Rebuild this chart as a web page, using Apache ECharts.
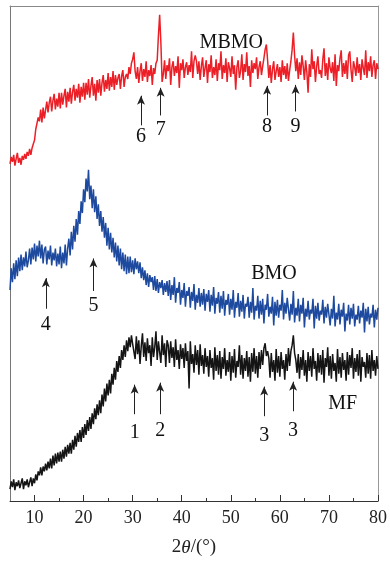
<!DOCTYPE html>
<html>
<head>
<meta charset="utf-8">
<script src="https://cdn.jsdelivr.net/npm/echarts@6/dist/echarts.min.js"></script>
<style>
  html, body { margin: 0; padding: 0; background: #fff; }
  #chart { width: 390px; height: 562px; }
</style>
</head>
<body>
<div id="chart"></div>
<script>
// 2θ sampling of the scans (degrees)
const twoThetaStart = 5
const twoThetaStep = 0.25

// intensities (arbitrary units, curves already offset as in the figure)
const mbmoIntensity = [
  342,349,344,351,340,347,353,343,348,341,350,346,352,
  347,354,350,357,351,358,
  362,366,377,378,389,385,
  397,384,399,388,
  390,405,394,404,
  410,395,406,413,397,408,400,414,
  398,414,402,411,418,399,415,405,
  419,403,415,422,406,418,409,423,404,420,410,424,
  407,424,412,428,409,421,430,411,423,406,427,414,
  428,411,424,432,415,427,418,434,
  416,430,420,436,417,432,422,429,
  433,418,431,437,420,430,
  433,428,440,433,444,448,455,436,
  428,440,424,436,444,426,438,430,446,425,437,431,442,422,439,433,444,
  447,472,493,465,425,
  433,447,428,442,436,449,422,440,446,431,441,434,451,419,444,437,448,429,440,445,
  432,442,435,456,429,446,
  452,446,
  433,446,427,441,450,430,439,447,424,443,435,452,429,440,432,448,426,444,437,456,
  428,442,434,449,425,445,439,430,451,433,442,417,440,447,429,436,453,427,443,435,
  455,431,441,420,447,434,444,438,450,428,440,446,432,441,
  449,458,463,447,
  429,442,424,438,446,427,436,443,430,440,425,447,432,441,428,444,426,437,446,
  458,475,452,
  436,449,428,445,432,452,441,427,447,435,414,443,430,458,438,446,425,441,451,433,
  437,429,448,459,431,444,427,450,439,434,445,426,453,421,442,436,449,457,430,444,
  433,447,428,452,456,437,425,446,440,431,450,434,443,427,448,439,432,457,429,445,
  436,451,430,442,447,428,444,438
]

const bmoIntensity = [
  214,236,222,241,225,244,228,247,233,
  250,234,247,238,253,237,244,256,
  240,257,245,261,243,259,248,264,
  246,260,241,255,
  258,240,254,245,259,239,252,244,
  256,238,251,240,
  258,236,252,241,260,239,256,
  266,249,273,255,279,
  263,286,270,294,
  281,304,292,316,
  303,327,314,336,306,320,
  297,316,293,309,
  286,301,279,294,273,
  288,267,282,259,277,255,
  272,252,267,247,262,243,259,239,
  256,235,252,233,250,230,248,231,
  248,232,244,230,246,235,243,231,
  242,226,237,224,
  234,219,231,217,229,222,227,214,
  228,213,225,211,222,216,224,209,221,212,223,208,
  224,204,219,209,227,201,216,211,222,199,214,206,221,197,213,208,
  217,196,212,203,220,194,209,201,216,197,211,199,215,193,210,202,
  214,192,209,198,217,190,206,200,212,191,208,195,213,188,204,199,
  210,189,205,194,214,186,202,196,211,187,203,192,209,185,200,197,
  207,186,202,191,216,184,198,193,208,185,203,189,205,180,199,194,210,187,197,190,
  207,178,202,188,204,186,199,193,214,184,201,190,206,
  204,183,200,189,213,181,196,188,205,182,199,190,206,176,195,187,203,184,194,190,
  205,175,198,185,201,183,193,189,204,180,197,186,200,
  199,178,195,185,208,177,191,184,200,179,194,187,201,172,190,183,199,179,196,185,
  200,177,189,184,198,180,193,186,201,171,195,182,197,179,190,186,199,176,194,184,196
]

const mfIntensity = [
  12,20,14,22,11,19,15,21,13,18,23,12,20,16,22,14,19,
  24,15,23,18,
  27,21,30,26,
  34,26,35,30,38,31,40,33,
  43,33,46,36,48,38,49,40,
  50,40,52,43,55,45,57,48,
  59,48,62,52,66,55,69,60,
  72,60,75,64,78,67,82,71,
  85,73,89,78,94,83,98,87,
  102,89,108,96,114,101,119,107,
  123,109,129,118,
  135,123,142,131,
  147,135,153,143,
  158,146,163,152,
  166,156,168,159,
  160,144,167,149,163,139,157,170,146,161,142,165,150,158,137,166,146,156,172,143,
  162,151,140,168,148,160,136,163,
  158,140,162,145,156,136,164,143,153,134,159,144,
  155,135,160,142,152,114,162,139,149,130,158,138,153,128,159,137,148,129,155,136,
  147,126,153,135,145,123,156,132,148,128,152,124,146,134,155,127,143,131,151,122,
  147,130,154,125,142,136,158,128,148,124,145,132,152,126,146,121,150,131,155,129,
  147,125,151,134,153,138,
  155,160,147,152,
  145,125,150,131,143,122,154,130,147,126,151,134,143,123,149,132,155,137,152,
  158,168,150,143,
  130,149,124,146,133,153,127,143,121,151,132,147,126,155,134,142,122,150,130,148,
  128,153,120,145,136,156,127,147,124,149,132,140,121,154,129,146,125,150,133,143,
  122,151,128,148,135,155,124,145,131,149,127,153,121,146,136,141,125,150,129,148,
  124,153,132,143,127,147,134
]

const majorTicks = [10, 20, 30, 40, 50, 60, 70, 80]
const minorTicks = [15, 25, 35, 45, 55, 65, 75]

// peak markers: angle, arrow tail / head and number position in intensity units
const mbmoPeaks = [
  { text: '6', angle: 31.7, tail: 381, head: 411, textAt: 369 },
  { text: '7', angle: 35.7, tail: 391, head: 419, textAt: 377 },
  { text: '8', angle: 57.4, tail: 391, head: 421, textAt: 380 },
  { text: '9', angle: 63.2, tail: 395, head: 422, textAt: 380 },
]
const bmoPeaks = [
  { text: '4', angle: 12.3, tail: 195, head: 226, textAt: 179 },
  { text: '5', angle: 22.0, tail: 213, head: 246, textAt: 198 },
]
const mfPeaks = [
  { text: '1', angle: 30.4, tail: 88, head: 118, textAt: 69 },
  { text: '2', angle: 35.6, tail: 88, head: 120, textAt: 71 },
  { text: '3', angle: 56.8, tail: 86, head: 116, textAt: 66 },
  { text: '3', angle: 62.7, tail: 91, head: 121, textAt: 71 },
]

const sampleNames = [
  { text: 'MBMO', angle: 50.1, at: 465 },
  { text: 'BMO', angle: 58.8, at: 230 },
  { text: 'MF', angle: 72.8, at: 99 },
]

const serif = 'Liberation Serif'

function scan(name, values, color, peaks, tag) {
  return {
    type: 'line',
    name,
    data: values.map((v, i) => [twoThetaStart + i * twoThetaStep, v]),
    showSymbol: false,
    symbol: 'none',
    lineStyle: { color, width: 1.5 },
    itemStyle: { color },
    silent: true,
    animation: false,
    markLine: {
      silent: true,
      animation: false,
      symbol: ['none', 'arrow'],
      symbolSize: [6, 9],
      lineStyle: { color: '#222', width: 1, type: 'solid' },
      itemStyle: { color: '#222' },
      label: { show: false },
      emphasis: { disabled: true },
      data: peaks.map((p) => [{ coord: [p.angle, p.tail] }, { coord: [p.angle, p.head] }]),
    },
    markPoint: {
      silent: true,
      animation: false,
      symbol: 'circle',
      symbolSize: 1,
      itemStyle: { color: 'rgba(0,0,0,0)' },
      label: {
        show: true,
        position: 'inside',
        formatter: '{b}',
        color: '#111',
        fontFamily: serif,
        fontSize: 20,
      },
      data: [
        ...peaks.map((p) => ({ name: p.text, coord: [p.angle, p.textAt] })),
        { name: tag.text, coord: [tag.angle, tag.at] },
      ],
    },
  }
}

const chart = echarts.init(document.getElementById('chart'))

chart.setOption({
  backgroundColor: '#fff',
  animation: false,
  grid: { left: 10, right: 10, top: 6, bottom: 54 },
  xAxis: [
    {
      type: 'value',
      min: 5,
      max: 80,
      position: 'bottom',
      axisLine: { show: true, lineStyle: { color: '#333', width: 1 } },
      axisTick: { show: true, inside: true, length: 6, customValues: majorTicks, lineStyle: { color: '#333' } },
      axisLabel: {
        customValues: majorTicks,
        color: '#222',
        fontFamily: serif,
        fontSize: 18,
        margin: 8,
      },
      splitLine: { show: false },
      name: '2{i|θ}/(°)',
      nameLocation: 'middle',
      nameGap: 37,
      nameTextStyle: {
        color: '#222',
        fontFamily: serif,
        fontSize: 19,
        rich: { i: { fontStyle: 'italic', fontFamily: serif, fontSize: 19, color: '#222' } },
      },
    },
    {
      type: 'value',
      min: 5,
      max: 80,
      position: 'bottom',
      axisLine: { show: false },
      axisTick: { show: true, inside: true, length: 3, customValues: minorTicks, lineStyle: { color: '#333' } },
      axisLabel: { show: false },
      splitLine: { show: false },
    },
    {
      type: 'value',
      min: 5,
      max: 80,
      position: 'top',
      axisLine: { show: true, lineStyle: { color: '#888', width: 1 } },
      axisTick: { show: false },
      axisLabel: { show: false },
      splitLine: { show: false },
    },
  ],
  yAxis: [
    {
      type: 'value',
      min: 0,
      max: 502,
      position: 'left',
      axisLine: { show: true, lineStyle: { color: '#777', width: 1 } },
      axisTick: { show: false },
      axisLabel: { show: false },
      splitLine: { show: false },
    },
    {
      type: 'value',
      min: 0,
      max: 502,
      position: 'right',
      axisLine: { show: true, lineStyle: { color: '#999', width: 1 } },
      axisTick: { show: false },
      axisLabel: { show: false },
      splitLine: { show: false },
    },
  ],
  series: [
    scan('MF', mfIntensity, '#141414', mfPeaks, sampleNames[2]),
    scan('BMO', bmoIntensity, '#1d4a9e', bmoPeaks, sampleNames[1]),
    scan('MBMO', mbmoIntensity, '#ec1f27', mbmoPeaks, sampleNames[0]),
  ],
})
</script>
</body>
</html>
